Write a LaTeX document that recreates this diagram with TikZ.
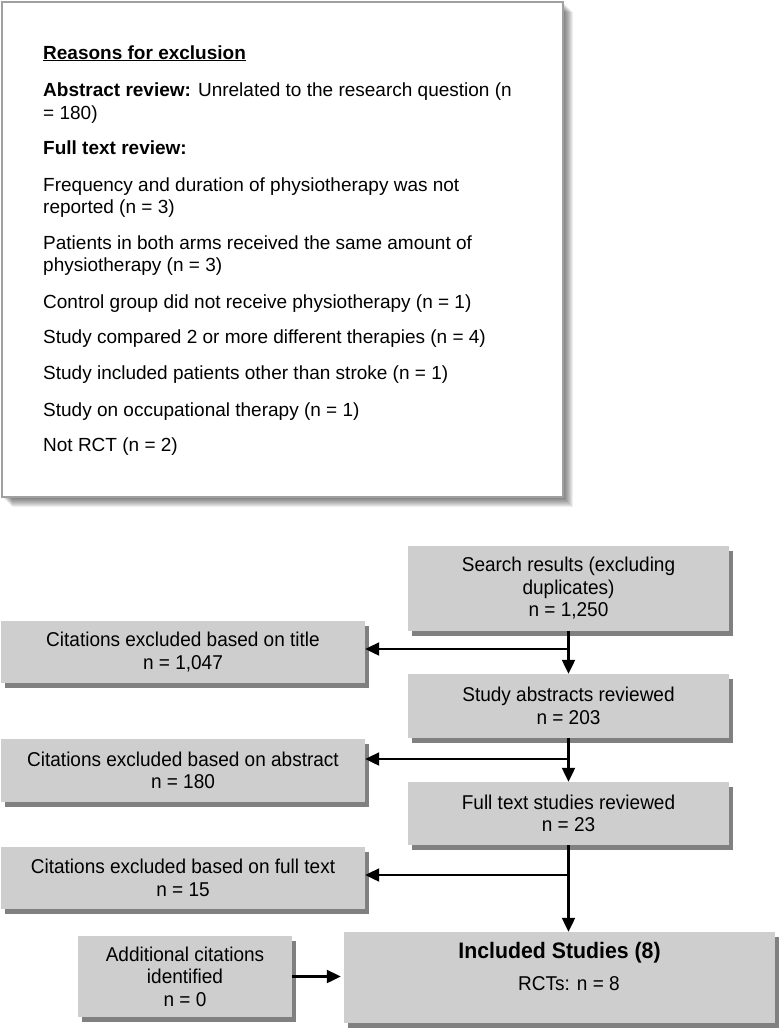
\documentclass[tikz,border=0pt]{standalone}
\usepackage{fontspec}
\setmainfont{Liberation Sans}
\newfontfamily\narrowfont{Liberation Sans}[FakeStretch=0.95]
\usetikzlibrary{arrows.meta,shadows}
\definecolor{boxgray}{RGB}{206,206,206}
\definecolor{shadowgray}{RGB}{128,128,128}
\definecolor{framegray}{RGB}{160,160,160}
\tikzset{
  fbox/.style={rectangle, fill=boxgray, inner sep=0pt, align=center,
    font=\narrowfont\fontsize{20}{22.5}\selectfont,
    drop shadow={shadow xshift=4pt, shadow yshift=-5pt, fill=shadowgray, opacity=1}},
  reason/.style={anchor=base west, inner sep=0pt, font=\fontsize{19}{22.5}\selectfont},
  inctext/.style={inner sep=0pt, font=\narrowfont\fontsize{20}{22.5}\selectfont},
  arr/.style={line width=2.2pt, -{Triangle[length=14pt,width=13pt]}},
  plain/.style={line width=2.2pt}
}
\begin{document}
\begin{tikzpicture}[x=1pt,y=-1pt]
\useasboundingbox (0,0) rectangle (780,1029);
% top box with soft shadow
\foreach \k in {1,...,10} {
  \fill[black, opacity=0.065] (2+\k,2+\k) rectangle (563+\k,497+\k);
}
\draw[framegray, fill=white, line width=2pt] (2,2) rectangle (563,497);
\node[reason] (r0) at (43,59) {\textbf{\underline{Reasons for exclusion}}};
\node[reason] (r1) at (43,96) {\textbf{Abstract review:} Unrelated to the research question (n};
\node[reason] (r2) at (43,119) {= 180)};
\node[reason] (r3) at (43,154) {\textbf{Full text review:}};
\node[reason] (r4) at (43,191) {Frequency and duration of physiotherapy was not};
\node[reason] (r5) at (43,213) {reported (n = 3)};
\node[reason] (r6) at (43,249) {Patients in both arms received the same amount of};
\node[reason] (r7) at (43,271) {physiotherapy (n = 3)};
\node[reason] (r8) at (43,308) {Control group did not receive physiotherapy (n = 1)};
\node[reason] (r9) at (43,343) {Study compared 2 or more different therapies (n = 4)};
\node[reason] (r10) at (43,379) {Study included patients other than stroke (n = 1)};
\node[reason] (r11) at (43,416) {Study on occupational therapy (n = 1)};
\node[reason] (r12) at (43,451) {Not RCT (n = 2)};
% flowchart
\node[fbox, minimum width=321pt, minimum height=85pt] (search) at (568.5,588.5) {Search results (excluding\\duplicates)\\n = 1,250};
\node[fbox, minimum width=321pt, minimum height=64pt] (abstracts) at (568.5,706) {Study abstracts reviewed\\n = 203};
\node[fbox, minimum width=321pt, minimum height=63pt] (fulltext) at (568.5,813.5) {Full text studies reviewed\\n = 23};
\node[fbox, minimum width=431pt, minimum height=91pt] (included) at (559.5,977.5) {};
\node[inctext, font=\narrowfont\bfseries\fontsize{22.4}{26}\selectfont] (inc1) at (559.5,953) {Included Studies (8)};
\node[inctext] (inc2) at (569,983.5) {RCTs: n = 8};
\node[fbox, minimum width=364pt, minimum height=62pt] (titleex) at (183,652) {Citations excluded based on title\\n = 1,047};
\node[fbox, minimum width=364pt, minimum height=63pt] (absex) at (183,770.5) {Citations excluded based on abstract\\n = 180};
\node[fbox, minimum width=364pt, minimum height=62pt] (ftex) at (183,878) {Citations excluded based on full text\\n = 15};
\node[fbox, minimum width=214pt, minimum height=81pt] (additional) at (185,976.5) {Additional citations\\identified\\n = 0};
% connectors
\coordinate (j1) at (568.5,649);
\coordinate (j2) at (568.5,759);
\coordinate (j3) at (568.5,875);
\draw[arr] (search.south) -- (abstracts.north);
\draw[arr] (j1) -- (titleex.east |- j1);
\draw[arr] (abstracts.south) -- (fulltext.north);
\draw[arr] (j2) -- (absex.east |- j2);
\draw[arr] (fulltext.south) -- (included.north -| fulltext.south);
\draw[arr] (j3) -- (ftex.east |- j3);
\draw[arr] (additional.east) -- ([xshift=-3pt]included.west |- additional.east);
\end{tikzpicture}
\end{document}
